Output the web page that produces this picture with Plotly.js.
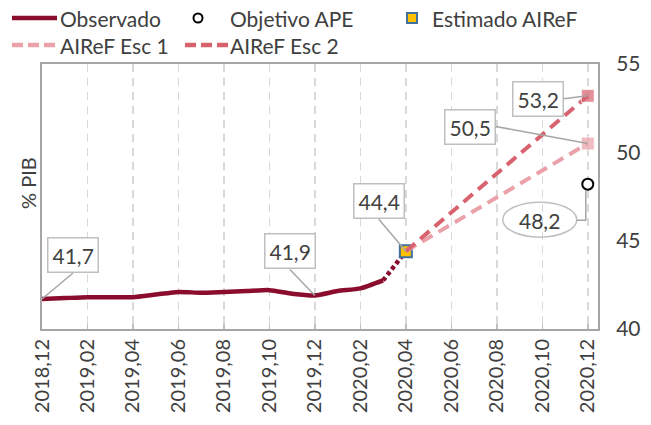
<!DOCTYPE html>
<html>
<head>
<meta charset="utf-8">
<script src="https://cdn.plot.ly/plotly-3.0.1.min.js"></script>
<style>html,body{margin:0;padding:0;background:#fff;}#chart{width:651px;height:425px;}</style>
</head>
<body>
<div id="chart"></div>
<script>
// ---- data ----
var monthLabels = ["2018,12","2019,01","2019,02","2019,03","2019,04","2019,05","2019,06","2019,07","2019,08","2019,09","2019,10","2019,11","2019,12","2020,01","2020,02","2020,03","2020,04","2020,05","2020,06","2020,07","2020,08","2020,09","2020,10","2020,11","2020,12"];
var obsIdx = [0,1,2,3,4,5,6,7,8,9,10,11,12,13,14,15];
var obsVals = [41.7,41.75,41.8,41.8,41.8,41.95,42.1,42.05,42.1,42.15,42.2,42.0,41.9,42.15,42.3,42.75];
var bridgeIdx = [15,16];
var bridgeVals = [42.75,44.4];
var estIdx = [16];
var estVals = [44.4];
var esc1Idx = [16,24];
var esc1Vals = [44.4,50.5];
var esc2Idx = [16,24];
var esc2Vals = [44.4,53.2];
var apeIdx = [24];
var apeVals = [48.2];
var tickIdx = [0,2,4,6,8,10,12,14,16,18,20,22,24];
var yTicks = [40,45,50,55];

var FONT = "Lato, 'Open Sans', sans-serif";
var TXT = "#404040";
var cObs = "#8B0D2E", cEsc1 = "#EBA1A9", cEsc2 = "#D9626F";

var traces = [
  {x: obsIdx, y: obsVals, mode: "lines", line: {color: cObs, width: 4.5, shape: "spline", smoothing: 0.6}, hoverinfo: "skip", showlegend: false},
  {x: bridgeIdx, y: bridgeVals, mode: "lines", line: {color: cObs, width: 4.5, dash: "4px,3px"}, hoverinfo: "skip", showlegend: false},
  {x: estIdx, y: estVals, mode: "markers", marker: {symbol: "square", size: 12, color: "#FFC000", line: {color: "#41719C", width: 2}}, showlegend: false},
  {x: esc1Idx, y: esc1Vals, mode: "lines+markers", line: {color: cEsc1, width: 4, dash: "12px,7px"}, marker: {symbol: "square", size: [0,13], color: cEsc1}, showlegend: false},
  {x: esc2Idx, y: esc2Vals, mode: "lines+markers", line: {color: cEsc2, width: 4, dash: "12px,7px"}, marker: {symbol: "square", size: [0,13], color: cEsc2}, showlegend: false},
  {x: apeIdx, y: apeVals, mode: "markers", marker: {symbol: "circle", size: 11, color: "#ffffff", line: {color: "#000000", width: 2}}, showlegend: false}
];

// pixel helpers for legend placement (paper coords)
var L = 42, R = 598, T = 64, B = 329;
function px(p){ return (p - L) / (R - L); }
function py(p){ return (B - p) / (B - T); }

function boxAnn(xv, yv, txt, ax, ay, xa, ya){
  return {x: xv, y: yv, xref: "x", yref: "y", text: txt, showarrow: true, arrowhead: 0, arrowwidth: 1.5, arrowcolor: "#A6A6A6",
    ax: ax, ay: ay, xanchor: xa, yanchor: ya, bordercolor: "#BFBFBF", borderwidth: 1.5, borderpad: 4, bgcolor: "#ffffff",
    font: {family: FONT, size: 21, color: TXT}};
}
function legText(x, y, t){
  return {x: px(x), y: py(y), xref: "paper", yref: "paper", text: t, xanchor: "left", yanchor: "middle", showarrow: false,
    font: {family: FONT, size: 21, color: TXT}};
}

var annotations = [
  boxAnn(obsIdx[0], obsVals[0], "41,7", 31, -26, "center", "bottom"),
  boxAnn(obsIdx[12], obsVals[12], "41,9", -25, -26, "center", "bottom"),
  boxAnn(estIdx[0], estVals[0], "44,4", -27, -32, "center", "bottom"),
  boxAnn(esc2Idx[1], esc2Vals[1], "53,2", -24, 3, "right", "middle"),
  boxAnn(esc1Idx[1], esc1Vals[1], "50,5", -92, -17, "right", "middle"),
  {x: apeIdx[0], y: apeVals[0], xref: "x", yref: "y", text: "48,2", showarrow: false, xshift: -48, yshift: -36,
    font: {family: FONT, size: 21, color: TXT}},
  {x: 0, y: py(183), xref: "paper", yref: "paper", xshift: -14, xanchor: "center", yanchor: "middle", text: "% PIB", textangle: -90, showarrow: false,
    font: {family: FONT, size: 20, color: TXT}},
  legText(58, 18, "Observado"),
  legText(228, 18, "Objetivo APE"),
  legText(430, 18, "Estimado AIReF"),
  legText(58, 45, "AIReF Esc 1"),
  legText(228, 45, "AIReF Esc 2")
];

var shapes = [
  // 48,2 ellipse + connector
  {type: "circle", xref: "x", yref: "y", xsizemode: "pixel", ysizemode: "pixel", xanchor: apeIdx[0], yanchor: apeVals[0],
    x0: -85, x1: -11, y0: -18, y1: -53, line: {color: "#BFBFBF", width: 1.5}, fillcolor: "rgba(255,255,255,0)"},
  {type: "path", xref: "x", yref: "y", xsizemode: "pixel", ysizemode: "pixel", xanchor: apeIdx[0], yanchor: apeVals[0],
    path: "M -11,-36 L -2,-36 L -2,-6", line: {color: "#A6A6A6", width: 1.5}},
  // legend swatches
  {type: "line", xref: "paper", yref: "paper", x0: px(12), x1: px(57), y0: py(18), y1: py(18), line: {color: cObs, width: 4.5}},
  {type: "line", xref: "paper", yref: "paper", x0: px(12), x1: px(57), y0: py(45), y1: py(45), line: {color: cEsc1, width: 4.5, dash: "11px,5px"}},
  {type: "line", xref: "paper", yref: "paper", x0: px(185), x1: px(228), y0: py(45), y1: py(45), line: {color: cEsc2, width: 4.5, dash: "11px,5px"}},
  {type: "circle", xref: "paper", yref: "paper", xsizemode: "pixel", ysizemode: "pixel", xanchor: px(198), yanchor: py(18),
    x0: -4.5, x1: 4.5, y0: -4.5, y1: 4.5, line: {color: "#000", width: 2}, fillcolor: "#fff"},
  {type: "rect", xref: "paper", yref: "paper", xsizemode: "pixel", ysizemode: "pixel", xanchor: px(412), yanchor: py(18),
    x0: -5, x1: 5, y0: -5, y1: 5, line: {color: "#41719C", width: 2}, fillcolor: "#FFC000"}
];

var layout = {
  width: 651, height: 425,
  margin: {l: 42, r: 53, t: 64, b: 96, pad: 0},
  paper_bgcolor: "#ffffff", plot_bgcolor: "#ffffff",
  showlegend: false,
  font: {family: FONT, color: TXT},
  xaxis: {
    range: [0, 24.45], tickmode: "array", tickvals: tickIdx, ticktext: tickIdx.map(function(i){return monthLabels[i];}),
    tickangle: -90, tickfont: {family: FONT, size: 20, color: TXT},
    showgrid: true, gridcolor: "#D9D9D9", gridwidth: 1.5, griddash: "8px,6px",
    showline: true, mirror: true, linecolor: "#A6A6A6", linewidth: 2,
    ticks: "inside", ticklen: 5, tickwidth: 1.5, tickcolor: "#BFBFBF",
    zeroline: false, fixedrange: true
  },
  yaxis: {
    range: [40, 55], side: "right", tickmode: "array", tickvals: yTicks,
    tickfont: {family: FONT, size: 21, color: TXT},
    showgrid: false, showline: true, mirror: true, linecolor: "#A6A6A6", linewidth: 2,
    ticks: "outside", ticklen: 12, tickcolor: "rgba(0,0,0,0)",
    zeroline: false, fixedrange: true
  },
  annotations: annotations,
  shapes: shapes
};

Plotly.newPlot("chart", traces, layout, {displayModeBar: false, staticPlot: true});
</script>
</body>
</html>
